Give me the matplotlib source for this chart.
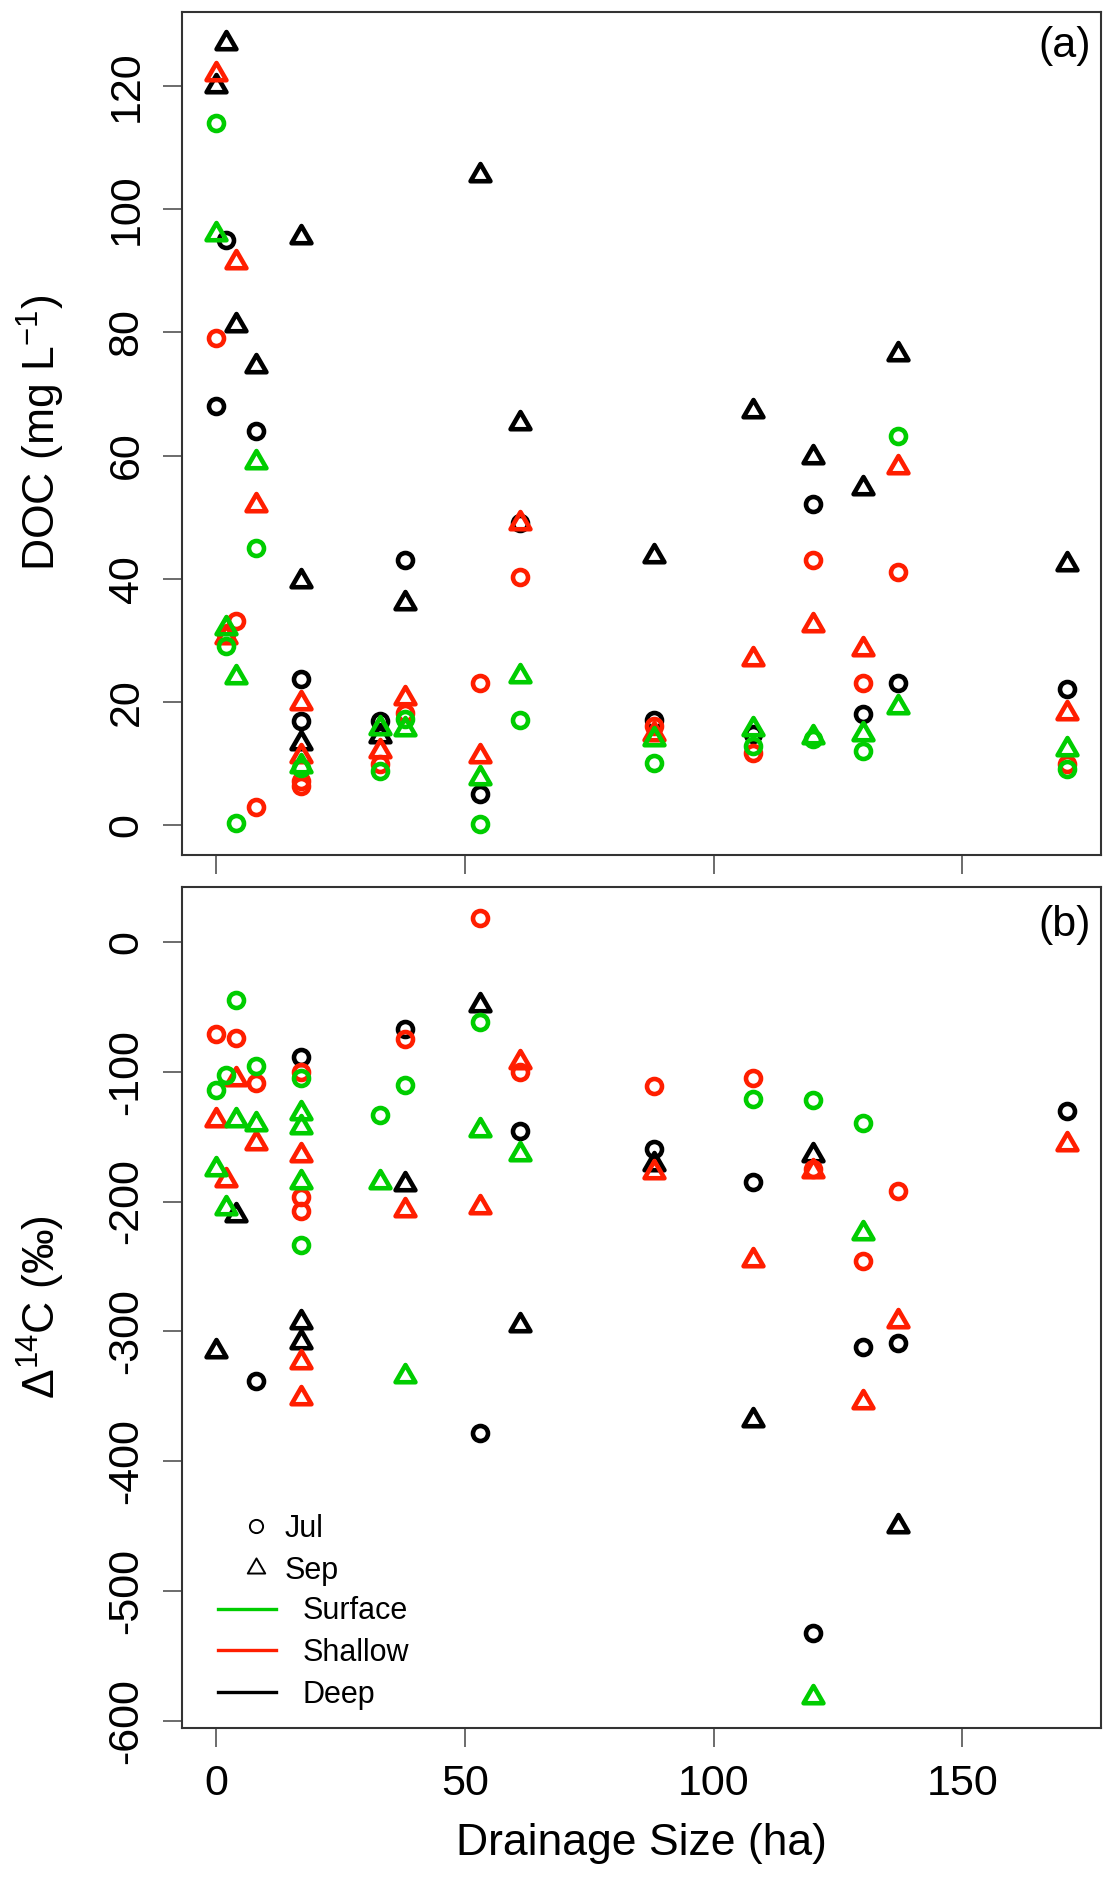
import numpy as np
import matplotlib.pyplot as plt
from matplotlib.path import Path
from matplotlib.markers import MarkerStyle
from matplotlib.lines import Line2D

plt.rcParams['font.family'] = ['Liberation Sans', 'DejaVu Sans']
plt.rcParams['mathtext.fontset'] = 'custom'
plt.rcParams['mathtext.rm'] = 'Liberation Sans'
plt.rcParams['mathtext.it'] = 'Liberation Sans:italic'
plt.rcParams['mathtext.bf'] = 'Liberation Sans:bold'
plt.rcParams['axes.unicode_minus'] = False

### data: drainage size (ha) and values, per depth and month
# panel (a) DOC (mg/L)
doc_surf_jul_x = [0, 2, 4, 8, 17, 33, 38, 53, 61, 88, 108, 120, 130, 137, 171]
doc_surf_jul_y = [114, 29, 0.3, 45, 9.2, 8.8, 17.2, 0.2, 17.1, 10.1, 12.8, 14, 12, 63.2, 9.1]
doc_surf_sep_x = [0, 2, 4, 8, 17, 33, 38, 53, 61, 88, 108, 120, 130, 137, 171]
doc_surf_sep_y = [96, 32, 24, 59, 9.6, 15.8, 15.6, 7.6, 24.2, 14, 15.6, 14.3, 14.8, 19.2, 12.4]

doc_shal_jul_x = [0, 2, 4, 8, 17, 17, 33, 38, 53, 61, 88, 108, 120, 130, 137, 171]
doc_shal_jul_y = [79, 31, 33.2, 3, 7.2, 6.4, 9.9, 18.2, 23.1, 40.2, 16, 11.7, 43.1, 23.1, 41.1, 9.9]
doc_shal_sep_x = [0, 2, 4, 8, 17, 17, 33, 38, 53, 61, 88, 108, 120, 130, 137, 171]
doc_shal_sep_y = [122, 30.5, 91.5, 52, 19.8, 11.2, 12, 20.7, 11.2, 49, 14.8, 27, 32.4, 28.6, 58.1, 18.2]

doc_deep_jul_x = [0, 2, 8, 17, 17, 33, 38, 53, 61, 88, 108, 120, 130, 137, 171]
doc_deep_jul_y = [68, 95, 64, 23.7, 16.9, 16.9, 43.1, 5, 49.1, 17.1, 14.8, 52.2, 18, 23.1, 22.1]
doc_deep_sep_x = [0, 2, 4, 8, 17, 17, 17, 33, 38, 53, 61, 88, 108, 120, 130, 137, 171]
doc_deep_sep_y = [120, 127, 81.2, 74.5, 95.5, 39.7, 13.3, 14.5, 36.1, 105.5, 65.2, 43.7, 67.3, 59.7, 54.8, 76.5, 42.4]

# panel (b) D14C (permil)
c14_surf_jul_x = [0, 2, 4, 8, 17, 17, 33, 38, 53, 108, 120, 130]
c14_surf_jul_y = [-113.8, -102.8, -45, -95.8, -105, -233.8, -133.6, -110, -61.7, -121.3, -122, -139.3]
c14_surf_sep_x = [0, 2, 4, 8, 17, 17, 17, 33, 38, 53, 61, 120, 130]
c14_surf_sep_y = [-174.7, -205, -137.5, -140, -132, -142.6, -185, -185, -334, -144.7, -163.7, -581.6, -224]

c14_shal_jul_x = [0, 4, 8, 17, 17, 17, 38, 53, 61, 88, 108, 120, 130, 137]
c14_shal_jul_y = [-71.2, -74.3, -109, -100, -196.6, -207.4, -74.5, 18.5, -100.2, -111.3, -104.8, -175, -246, -192.2]
c14_shal_sep_x = [0, 2, 4, 8, 17, 17, 17, 38, 53, 61, 88, 108, 120, 130, 137, 171]
c14_shal_sep_y = [-137.5, -183.7, -105.6, -155, -164.5, -323.8, -351.3, -206.3, -204.3, -92.5,
                  -177.3, -245.4, -176.6, -354.7, -291.7, -155.5]

c14_deep_jul_x = [8, 17, 38, 53, 61, 88, 108, 120, 130, 137, 171]
c14_deep_jul_y = [-338, -88.6, -66.8, -378, -146, -159.3, -185, -532.5, -312.2, -308.9, -130.5]
c14_deep_sep_x = [0, 4, 17, 17, 38, 53, 61, 88, 108, 120, 137]
c14_deep_sep_y = [-314.8, -210.7, -292.4, -308.4, -186.8, -48.8, -294.8, -170.9, -368.3, -164, -450.2]

doc_ticks = [0, 20, 40, 60, 80, 100, 120]
c14_ticks = [0, -100, -200, -300, -400, -500, -600]
x_ticks = [0, 50, 100, 150]

green = '#00CD00'
red = '#FF1E00'
black = '#000000'

# R style open triangle (pch=2)
tri_path = Path([(0, 1), (-0.866, -0.5), (0.866, -0.5), (0, 1)], closed=True)
tri = MarkerStyle(tri_path, joinstyle='round')
circ = MarkerStyle('o')

MS_C = 10.8
MS_T = 16.5


def pts(ax, x, y, color, marker, ms):
    ax.plot(x, y, ls='none', marker=marker, ms=ms, mfc='none', mec=color, mew=3.3)


def style(ax):
    for axis in ['top', 'bottom', 'left', 'right']:
        ax.spines[axis].set_linewidth(1.5)
        ax.spines[axis].set_color('#333333')
    ax.tick_params(which='major', direction='out', length=13.5, width=1.1,
                   color='#444444', labelsize=31, pad=12)
    ax.tick_params(axis='y', labelrotation=90)
    ax.margins(x=0.04, y=0.04)


fig = plt.figure(figsize=(11.14, 18.8), dpi=100)
ax_a = fig.add_axes([0.1634, 0.5452, 0.8249, 0.4486])
ax_b = fig.add_axes([0.1634, 0.0807, 0.8249, 0.4477], sharex=ax_a)

# panel (a)
pts(ax_a, doc_deep_jul_x, doc_deep_jul_y, black, circ, MS_C)
pts(ax_a, doc_deep_sep_x, doc_deep_sep_y, black, tri, MS_T)
pts(ax_a, doc_shal_jul_x, doc_shal_jul_y, red, circ, MS_C)
pts(ax_a, doc_shal_sep_x, doc_shal_sep_y, red, tri, MS_T)
pts(ax_a, doc_surf_jul_x, doc_surf_jul_y, green, circ, MS_C)
pts(ax_a, doc_surf_sep_x, doc_surf_sep_y, green, tri, MS_T)

# panel (b)
pts(ax_b, c14_deep_jul_x, c14_deep_jul_y, black, circ, MS_C)
pts(ax_b, c14_deep_sep_x, c14_deep_sep_y, black, tri, MS_T)
pts(ax_b, c14_shal_jul_x, c14_shal_jul_y, red, circ, MS_C)
pts(ax_b, c14_shal_sep_x, c14_shal_sep_y, red, tri, MS_T)
pts(ax_b, c14_surf_jul_x, c14_surf_jul_y, green, circ, MS_C)
pts(ax_b, c14_surf_sep_x, c14_surf_sep_y, green, tri, MS_T)

style(ax_a)
style(ax_b)

ax_a.set_yticks(doc_ticks)
ax_b.set_yticks(c14_ticks)
ax_b.set_xticks(x_ticks)
ax_a.tick_params(axis='x', labelbottom=False)
plt.setp(ax_a.get_yticklabels(), va='center')
plt.setp(ax_b.get_yticklabels(), va='center')

ax_a.set_ylabel('DOC (mg L$^{-1}$)', fontsize=32)
ax_b.set_ylabel('Δ$^{14}$C (‰)', fontsize=32)
ax_a.yaxis.set_label_coords(-0.125, 0.5)
ax_b.yaxis.set_label_coords(-0.125, 0.5)
ax_b.set_xlabel('Drainage Size (ha)', fontsize=32, labelpad=14)

ax_a.text(0.989, 0.983, '(a)', transform=ax_a.transAxes, ha='right', va='top', fontsize=31)
ax_b.text(0.989, 0.978, '(b)', transform=ax_b.transAxes, ha='right', va='top', fontsize=31)

# legends
month_handles = [
    Line2D([], [], ls='none', marker=circ, ms=9.5, mfc='none', mec=black, mew=1.4),
    Line2D([], [], ls='none', marker=tri, ms=14.5, mfc='none', mec=black, mew=1.4),
]
leg1 = ax_b.legend(month_handles, ['Jul', 'Sep'], loc='upper left',
                   bbox_to_anchor=(0.2161, 0.1947), bbox_transform=fig.transFigure,
                   frameon=False, fontsize=22, handlelength=1.0, handletextpad=0.42,
                   labelspacing=0.38, borderpad=0, borderaxespad=0, numpoints=1)
ax_b.add_artist(leg1)

depth_handles = [
    Line2D([], [], color=green, lw=2.4),
    Line2D([], [], color=red, lw=2.4),
    Line2D([], [], color=black, lw=2.4),
]
ax_b.legend(depth_handles, ['Surface', 'Shallow', 'Deep'], loc='upper left',
            bbox_to_anchor=(0.196, 0.1508), bbox_transform=fig.transFigure,
            frameon=False, fontsize=22, handlelength=1.89, handletextpad=0.87,
            labelspacing=0.38, borderpad=0, borderaxespad=0)

fig.savefig('out.png', dpi=100)
